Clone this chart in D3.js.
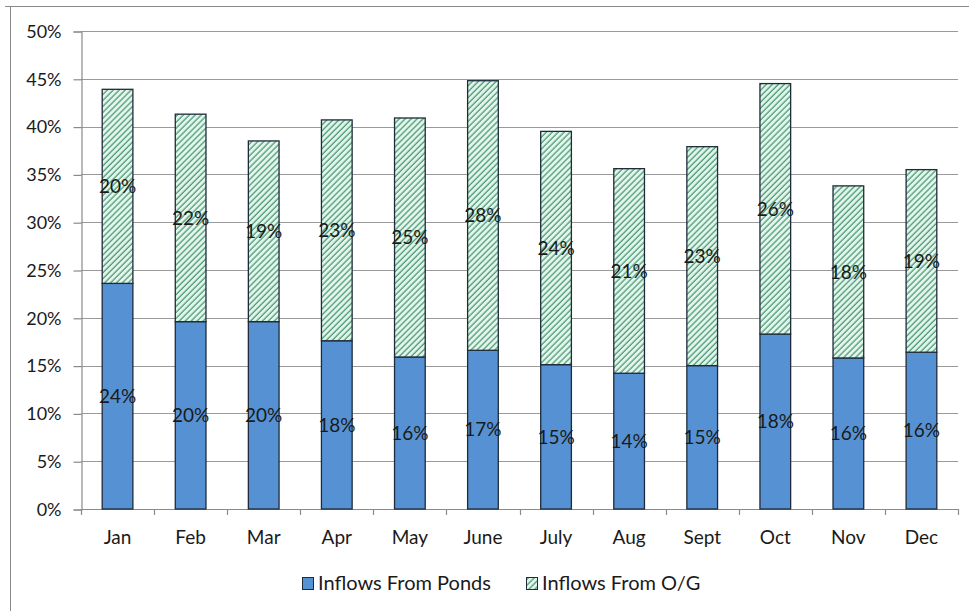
<!DOCTYPE html>
<html>
<head>
<meta charset="utf-8">
<script src="https://cdn.jsdelivr.net/npm/d3@7"></script>
<style>
  html, body { margin: 0; padding: 0; background: #fff; }
  svg { display: block; }
  text { font-family: Lato, "Open Sans", sans-serif; fill: #1a1a1a; }
</style>
</head>
<body>
<svg id="chart" width="969" height="611"></svg>
<script>
// Monthly inflow shares
const months = ["Jan", "Feb", "Mar", "Apr", "May", "June", "July", "Aug", "Sept", "Oct", "Nov", "Dec"];
const ponds  = [0.236, 0.196, 0.196, 0.176, 0.159, 0.166, 0.151, 0.142, 0.150, 0.183, 0.158, 0.164];
const og     = [0.203, 0.217, 0.189, 0.231, 0.250, 0.282, 0.244, 0.214, 0.229, 0.262, 0.180, 0.191];
const yTicks = [0, 0.05, 0.10, 0.15, 0.20, 0.25, 0.30, 0.35, 0.40, 0.45, 0.50];
const seriesNames = ["Inflows From Ponds", "Inflows From O/G"];

const svg = d3.select("#chart");
const W = 969, H = 611;
const plot = { left: 81, right: 958, top: 31, bottom: 509 };

// outer chart frame (top and left edges)
svg.append("path")
  .attr("d", `M5,6.5H${W} M10.5,6V${H}`)
  .attr("fill", "none").attr("stroke", "#8a8a8a").attr("stroke-width", 1);

// hatch pattern for the O/G series
const defs = svg.append("defs");
const pat = defs.append("pattern")
  .attr("id", "hatch").attr("patternUnits", "userSpaceOnUse")
  .attr("width", 4.2).attr("height", 4.2)
  .attr("patternTransform", "rotate(45)");
pat.append("rect").attr("width", 4.2).attr("height", 4.2).attr("fill", "#e2f6ec");
pat.append("line").attr("x1", 1).attr("x2", 1).attr("y1", 0).attr("y2", 4.2)
  .attr("stroke", "#4a9673").attr("stroke-width", 1.25);

const x = d3.scaleBand().domain(months).range([plot.left, plot.right]).paddingInner(0.58).paddingOuter(0.29);
const xEdge = d3.scaleBand().domain(months).range([plot.left, plot.right]);
const y = d3.scaleLinear().domain([0, 0.5]).range([plot.bottom, plot.top]);

// horizontal gridlines
svg.append("g").selectAll("line").data(yTicks.filter(t => t > 0)).join("line")
  .attr("x1", plot.left).attr("x2", plot.right)
  .attr("y1", d => Math.round(y(d)) + 0.5).attr("y2", d => Math.round(y(d)) + 0.5)
  .attr("stroke", "#9a9a9a").attr("stroke-width", 1.2);

// y axis
const yAxis = d3.axisLeft(y).tickValues(yTicks).tickFormat(d3.format(".0%")).tickSizeOuter(0).tickSize(8).tickPadding(12);
const gy = svg.append("g").attr("transform", `translate(${plot.left + 0.5},0.5)`).call(yAxis);
gy.select(".domain").attr("stroke", "#8a8a8a").attr("stroke-width", 1.2);
gy.selectAll(".tick line").attr("stroke", "#8a8a8a").attr("stroke-width", 1.2);
gy.selectAll("text").style("font-size", "18px").attr("fill", "#1a1a1a").attr("font-family", "Lato");

// x axis: tick marks at category boundaries
const gx = svg.append("g");
gx.append("line").attr("x1", plot.left).attr("x2", plot.right)
  .attr("y1", plot.bottom + 0.5).attr("y2", plot.bottom + 0.5)
  .attr("stroke", "#8a8a8a").attr("stroke-width", 1.2);
const edges = months.map(m => xEdge(m)).concat([plot.right]);
gx.selectAll("line.edge").data(edges).join("line").attr("class", "edge")
  .attr("x1", d => Math.round(d) + 0.5).attr("x2", d => Math.round(d) + 0.5)
  .attr("y1", plot.bottom).attr("y2", plot.bottom + 6)
  .attr("stroke", "#8a8a8a").attr("stroke-width", 1.2);
gx.selectAll("text").data(months).join("text")
  .attr("x", d => x(d) + x.bandwidth() / 2).attr("y", 544)
  .attr("text-anchor", "middle").style("font-size", "19px").text(d => d);

// stacked bars
const rows = months.map((m, i) => ({ month: m, ponds: ponds[i], og: og[i] }));
const stack = d3.stack().keys(["ponds", "og"])(rows);
const fills = ["#5692d3", "url(#hatch)"];
const fmt = d3.format(".0%");

stack.forEach((layer, li) => {
  const g = svg.append("g");
  g.selectAll("rect").data(layer).join("rect")
    .attr("x", d => x(d.data.month)).attr("width", x.bandwidth())
    .attr("y", d => y(d[1])).attr("height", d => y(d[0]) - y(d[1]))
    .attr("fill", fills[li]).attr("stroke", "#1e2b3a").attr("stroke-width", 1.3);
  g.selectAll("text").data(layer).join("text")
    .attr("x", d => x(d.data.month) + x.bandwidth() / 2)
    .attr("y", d => (y(d[0]) + y(d[1])) / 2)
    .attr("dy", "0.36em").attr("text-anchor", "middle")
    .style("font-size", "19px").attr("fill", "#1a1a1a")
    .text(d => fmt(d[1] - d[0]));
});

// legend
const legend = svg.append("g");
const items = [
  { name: seriesNames[0], fill: fills[0], x: 302 },
  { name: seriesNames[1], fill: fills[1], x: 526 }
];
items.forEach(it => {
  legend.append("rect").attr("x", it.x + 0.5).attr("y", 577.5).attr("width", 11).attr("height", 12)
    .attr("fill", it.fill).attr("stroke", "#1e2b3a").attr("stroke-width", 1);
  legend.append("text").attr("x", it.x + 16).attr("y", 590)
    .style("font-size", "20px").text(it.name);
});
</script>
</body>
</html>
